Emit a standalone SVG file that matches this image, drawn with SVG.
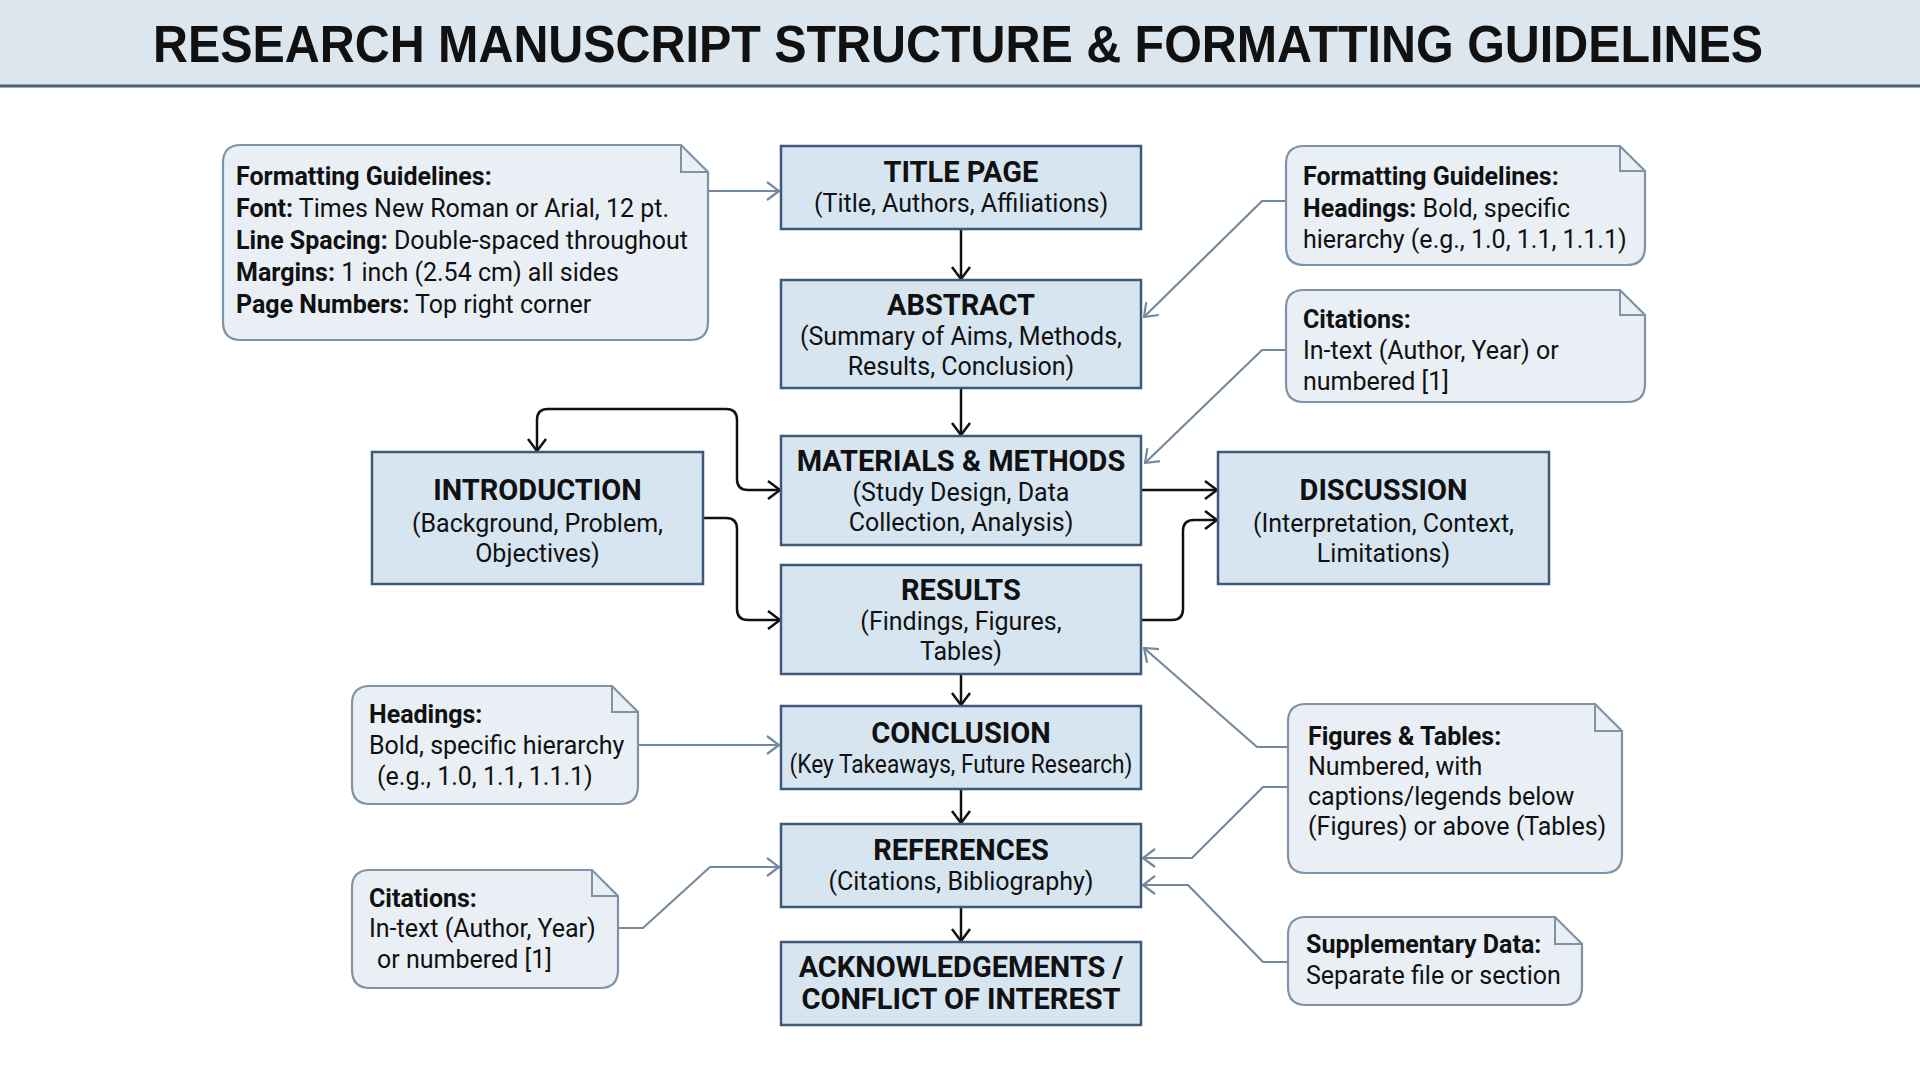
<svg xmlns="http://www.w3.org/2000/svg" width="1920" height="1072" viewBox="0 0 1920 1072">
<style>
.box{fill:#d7e5f1;stroke:#3d5a78;stroke-width:2.5}
.note{fill:#e9eff5;stroke:#7f93a6;stroke-width:2.2}
.fold{fill:none;stroke:#7f93a6;stroke-width:2}
.h{font-family:Roboto,"Liberation Sans",sans-serif;font-weight:bold;font-size:29px;fill:#111;text-anchor:middle}
.s{font-family:Roboto,"Liberation Sans",sans-serif;font-size:25px;fill:#111;text-anchor:middle}
.n{font-family:Roboto,"Liberation Sans",sans-serif;font-size:25px;fill:#111}
.b{font-weight:bold}
.main{fill:none;stroke:#111;stroke-width:2.5}
.side{fill:none;stroke:#7489a0;stroke-width:2.2}
</style>
<defs>
<marker id="ab" viewBox="0 0 14 20" refX="13" refY="10" markerWidth="14" markerHeight="20" markerUnits="userSpaceOnUse" orient="auto-start-reverse">
<path d="M1,1 L13,10 L1,19" fill="none" stroke="#111" stroke-width="2.5"/>
</marker>
<marker id="ag" viewBox="0 0 14 20" refX="13" refY="10" markerWidth="14" markerHeight="20" markerUnits="userSpaceOnUse" orient="auto-start-reverse">
<path d="M1,1 L13,10 L1,19" fill="none" stroke="#7489a0" stroke-width="2.2"/>
</marker>
</defs>
<rect x="0" y="0" width="1920" height="1072" fill="#ffffff"/>
<g id="header">
<rect x="0" y="0" width="1920" height="85" fill="#dbe6ef"/>
<line x1="0" y1="86" x2="1920" y2="86" stroke="#4a6078" stroke-width="3"/>
<text x="958" y="62" font-family="'Liberation Sans',Arial,sans-serif" font-weight="bold" font-size="51" fill="#111" text-anchor="middle" textLength="1610" lengthAdjust="spacingAndGlyphs">RESEARCH MANUSCRIPT STRUCTURE &amp; FORMATTING GUIDELINES</text>
</g>

<g id="connectors">
<path class="main" d="M961,229 V279" marker-end="url(#ab)"/>
<path class="main" d="M961,388 V435" marker-end="url(#ab)"/>
<path class="main" d="M537,451 V420 Q537,409 548,409 H726 Q737,409 737,420 V479 Q737,490 748,490 H780" marker-start="url(#ab)" marker-end="url(#ab)"/>
<path class="main" d="M703,518 H726 Q737,518 737,529 V609 Q737,620 748,620 H780" marker-end="url(#ab)"/>
<path class="main" d="M1141,490 H1217" marker-end="url(#ab)"/>
<path class="main" d="M1141,620 H1172 Q1183,620 1183,609 V531 Q1183,520 1194,520 H1217" marker-end="url(#ab)"/>
<path class="main" d="M961,674 V705" marker-end="url(#ab)"/>
<path class="main" d="M961,789 V823" marker-end="url(#ab)"/>
<path class="main" d="M961,907 V941" marker-end="url(#ab)"/>
<path class="side" d="M708,191 H779" marker-end="url(#ag)"/>
<path class="side" d="M1286,201 H1262 L1144,317" marker-end="url(#ag)"/>
<path class="side" d="M1286,350 H1262 L1145,463" marker-end="url(#ag)"/>
<path class="side" d="M638,745 H779" marker-end="url(#ag)"/>
<path class="side" d="M618,928 H643 L710,867 H779" marker-end="url(#ag)"/>
<path class="side" d="M1288,747 H1257 L1144,648" marker-end="url(#ag)"/>
<path class="side" d="M1288,787 H1263 L1192,858 H1143" marker-end="url(#ag)"/>
<path class="side" d="M1288,962 H1263 L1188,885 H1143" marker-end="url(#ag)"/>
</g>

<g id="title-page">
<rect class="box" x="781" y="146" width="360" height="83"/>
<text class="h" x="961" y="182">TITLE PAGE</text>
<text class="s" x="961" y="212">(Title, Authors, Affiliations)</text>
</g>
<g id="abstract">
<rect class="box" x="781" y="280" width="360" height="108"/>
<text class="h" x="961" y="315">ABSTRACT</text>
<text class="s" x="961" y="345">(Summary of Aims, Methods,</text>
<text class="s" x="961" y="375">Results, Conclusion)</text>
</g>
<g id="materials-methods">
<rect class="box" x="781" y="436" width="360" height="109"/>
<text class="h" x="961" y="471">MATERIALS &amp; METHODS</text>
<text class="s" x="961" y="501">(Study Design, Data</text>
<text class="s" x="961" y="531">Collection, Analysis)</text>
</g>
<g id="results">
<rect class="box" x="781" y="565" width="360" height="109"/>
<text class="h" x="961" y="600">RESULTS</text>
<text class="s" x="961" y="630">(Findings, Figures,</text>
<text class="s" x="961" y="660">Tables)</text>
</g>
<g id="conclusion">
<rect class="box" x="781" y="706" width="360" height="83"/>
<text class="h" x="961" y="743">CONCLUSION</text>
<text class="s" x="961" y="773" textLength="343" lengthAdjust="spacingAndGlyphs">(Key Takeaways, Future Research)</text>
</g>
<g id="references">
<rect class="box" x="781" y="824" width="360" height="83"/>
<text class="h" x="961" y="860">REFERENCES</text>
<text class="s" x="961" y="890">(Citations, Bibliography)</text>
</g>
<g id="acknowledgements">
<rect class="box" x="781" y="942" width="360" height="83"/>
<text class="h" x="961" y="977">ACKNOWLEDGEMENTS /</text>
<text class="h" x="961" y="1009">CONFLICT OF INTEREST</text>
</g>
<g id="introduction">
<rect class="box" x="372" y="452" width="331" height="132"/>
<text class="h" x="537.5" y="500">INTRODUCTION</text>
<text class="s" x="537.5" y="532">(Background, Problem,</text>
<text class="s" x="537.5" y="562">Objectives)</text>
</g>
<g id="discussion">
<rect class="box" x="1218" y="452" width="331" height="132"/>
<text class="h" x="1383.5" y="500">DISCUSSION</text>
<text class="s" x="1383.5" y="532">(Interpretation, Context,</text>
<text class="s" x="1383.5" y="562">Limitations)</text>
</g>

<g id="note-formatting-left">
<path class="note" d="M241,145 H681 L708,172 V322 Q708,340 690,340 H241 Q223,340 223,322 V163 Q223,145 241,145 Z"/>
<path class="fold" d="M681,145 V172 H708"/>
<text class="n" x="236" y="185"><tspan class="b">Formatting Guidelines:</tspan></text>
<text class="n" x="236" y="217"><tspan class="b">Font:</tspan> Times New Roman or Arial, 12 pt.</text>
<text class="n" x="236" y="249"><tspan class="b">Line Spacing:</tspan> Double-spaced throughout</text>
<text class="n" x="236" y="281"><tspan class="b">Margins:</tspan> 1 inch (2.54 cm) all sides</text>
<text class="n" x="236" y="313"><tspan class="b">Page Numbers:</tspan> Top right corner</text>
</g>
<g id="note-formatting-right">
<path class="note" d="M1304,146 H1620 L1645,171 V247 Q1645,265 1627,265 H1304 Q1286,265 1286,247 V164 Q1286,146 1304,146 Z"/>
<path class="fold" d="M1620,146 V171 H1645"/>
<text class="n" x="1303" y="185"><tspan class="b">Formatting Guidelines:</tspan></text>
<text class="n" x="1303" y="217"><tspan class="b">Headings:</tspan> Bold, specific</text>
<text class="n" x="1303" y="248">hierarchy (e.g., 1.0, 1.1, 1.1.1)</text>
</g>
<g id="note-citations-right">
<path class="note" d="M1304,290 H1620 L1645,315 V384 Q1645,402 1627,402 H1304 Q1286,402 1286,384 V308 Q1286,290 1304,290 Z"/>
<path class="fold" d="M1620,290 V315 H1645"/>
<text class="n" x="1303" y="328"><tspan class="b">Citations:</tspan></text>
<text class="n" x="1303" y="359">In-text (Author, Year) or</text>
<text class="n" x="1303" y="390">numbered [1]</text>
</g>
<g id="note-headings-left">
<path class="note" d="M370,686 H612 L638,712 V786 Q638,804 620,804 H370 Q352,804 352,786 V704 Q352,686 370,686 Z"/>
<path class="fold" d="M612,686 V712 H638"/>
<text class="n" x="369" y="723"><tspan class="b">Headings:</tspan></text>
<text class="n" x="369" y="754">Bold, specific hierarchy</text>
<text class="n" x="377" y="785">(e.g., 1.0, 1.1, 1.1.1)</text>
</g>
<g id="note-citations-left">
<path class="note" d="M370,870 H592 L618,896 V970 Q618,988 600,988 H370 Q352,988 352,970 V888 Q352,870 370,870 Z"/>
<path class="fold" d="M592,870 V896 H618"/>
<text class="n" x="369" y="907"><tspan class="b">Citations:</tspan></text>
<text class="n" x="369" y="937">In-text (Author, Year)</text>
<text class="n" x="377" y="968">or numbered [1]</text>
</g>
<g id="note-figures-tables">
<path class="note" d="M1306,704 H1595 L1622,731 V855 Q1622,873 1604,873 H1306 Q1288,873 1288,855 V722 Q1288,704 1306,704 Z"/>
<path class="fold" d="M1595,704 V731 H1622"/>
<text class="n" x="1308" y="745"><tspan class="b">Figures &amp; Tables:</tspan></text>
<text class="n" x="1308" y="775">Numbered, with</text>
<text class="n" x="1308" y="805">captions/legends below</text>
<text class="n" x="1308" y="835">(Figures) or above (Tables)</text>
</g>
<g id="note-supplementary">
<path class="note" d="M1306,917 H1555 L1582,944 V987 Q1582,1005 1564,1005 H1306 Q1288,1005 1288,987 V935 Q1288,917 1306,917 Z"/>
<path class="fold" d="M1555,917 V944 H1582"/>
<text class="n" x="1306" y="953"><tspan class="b">Supplementary Data:</tspan></text>
<text class="n" x="1306" y="984">Separate file or section</text>
</g>
</svg>
